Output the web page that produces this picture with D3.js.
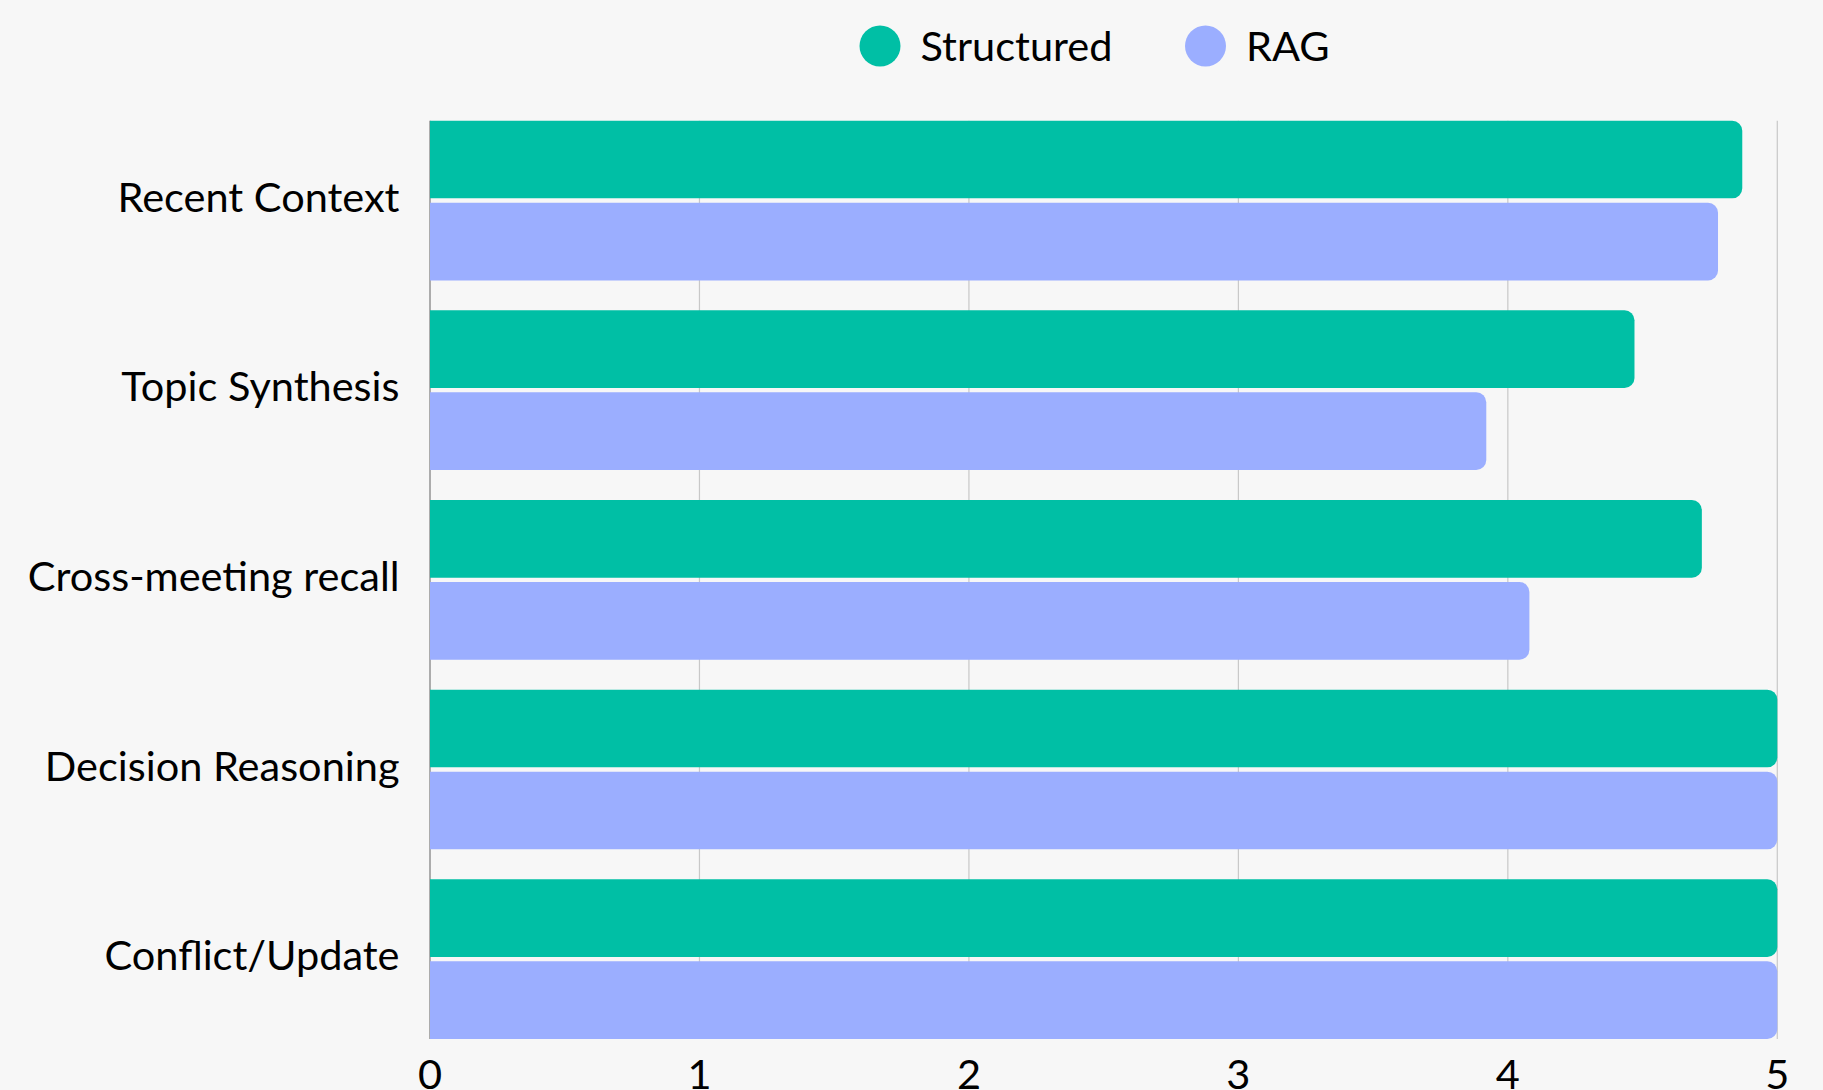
<!DOCTYPE html>
<html>
<head>
<meta charset="utf-8">
<script src="https://cdn.jsdelivr.net/npm/d3@7"></script>
<style>
  html, body { margin: 0; padding: 0; background: #f7f7f7; }
  svg { display: block; font-family: Lato, "Noto Sans", sans-serif; }
</style>
</head>
<body>
<svg id="chart" width="1823" height="1090"></svg>
<script>
// Scores per question category for the two memory approaches
const categories = ["Recent Context", "Topic Synthesis", "Cross-meeting recall", "Decision Reasoning", "Conflict/Update"];
const structuredScores = [4.87, 4.47, 4.72, 5, 5];
const ragScores = [4.78, 3.92, 4.08, 5, 5];
const seriesNames = ["Structured", "RAG"];
const seriesColors = ["#00bfa5", "#9baeff"];
const xTickValues = [0, 1, 2, 3, 4, 5];

const width = 1823, height = 1090;
const plot = { left: 430, right: 1777.3, top: 120.7, bottom: 1039 };
const fontSize = 41.5;

const svg = d3.select("#chart");
svg.append("rect").attr("width", width).attr("height", height).attr("fill", "#f7f7f7");

const x = d3.scaleLinear().domain([0, 5]).range([plot.left, plot.right]);
const y = d3.scaleBand().domain(categories).range([plot.top, plot.bottom])
  .paddingInner(0.158).paddingOuter(0);
const ySub = d3.scaleBand().domain(seriesNames).range([0, y.bandwidth()]).paddingInner(0.053);

// vertical grid lines
svg.append("g").selectAll("line").data(xTickValues.filter(d => d > 0)).join("line")
  .attr("x1", d => x(d)).attr("x2", d => x(d))
  .attr("y1", plot.top).attr("y2", plot.bottom)
  .attr("stroke", "#c8c8c8").attr("stroke-width", 1.2);

// category axis line
svg.append("line")
  .attr("x1", x(0)).attr("x2", x(0)).attr("y1", plot.top).attr("y2", plot.bottom)
  .attr("stroke", "#7a7a7a").attr("stroke-width", 1.2);

// bar with rounded end on the value side
function barPath(x0, x1, y0, h, r) {
  const rr = Math.min(r, (x1 - x0), h / 2);
  return `M${x0},${y0}H${x1 - rr}A${rr},${rr} 0 0 1 ${x1},${y0 + rr}` +
         `V${y0 + h - rr}A${rr},${rr} 0 0 1 ${x1 - rr},${y0 + h}H${x0}Z`;
}

const rows = categories.map((c, i) => ({
  category: c,
  values: [
    { series: seriesNames[0], value: structuredScores[i], color: seriesColors[0] },
    { series: seriesNames[1], value: ragScores[i], color: seriesColors[1] }
  ]
}));

const groups = svg.append("g").selectAll("g").data(rows).join("g")
  .attr("transform", d => `translate(0,${y(d.category)})`);

groups.selectAll("path").data(d => d.values).join("path")
  .attr("d", d => barPath(x(0), x(d.value), ySub(d.series), ySub.bandwidth(), 10))
  .attr("fill", d => d.color);

// category labels
svg.append("g").selectAll("text").data(categories).join("text")
  .attr("x", 399.5)
  .attr("y", d => y(d) + y.bandwidth() / 2 + 11.3)
  .attr("text-anchor", "end")
  .attr("font-size", fontSize)
  .attr("fill", "#000")
  .text(d => d);

// value axis labels
svg.append("g").selectAll("text").data(xTickValues).join("text")
  .attr("x", d => x(d))
  .attr("y", 1088.5)
  .attr("text-anchor", "middle")
  .attr("font-size", fontSize)
  .attr("fill", "#000")
  .text(d => d);

// legend
const legendX = [880, 1205.5];
const legend = svg.append("g").selectAll("g").data(seriesNames).join("g")
  .attr("transform", (d, i) => `translate(${legendX[i]},46)`);
legend.append("circle").attr("r", 20.5).attr("fill", (d, i) => seriesColors[i]);
legend.append("text")
  .attr("x", 40.5).attr("y", 15)
  .attr("font-size", fontSize)
  .attr("fill", "#000")
  .text(d => d);
</script>
</body>
</html>
